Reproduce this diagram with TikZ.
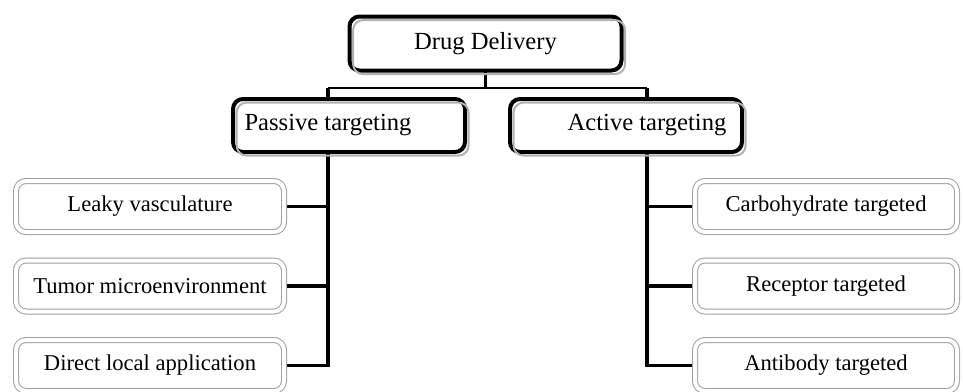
\documentclass[tikz,border=0pt]{standalone}
\usepackage{fontspec}
\setmainfont{Liberation Serif}
\usetikzlibrary{positioning,backgrounds}

\tikzset{
  mainbox/.style={draw, line width=2pt, rounded corners=5pt, outer sep=0pt,
    minimum height=26.5pt, font=\fontsize{12.3}{14.8}\selectfont,
    preaction={fill=white},
    postaction={draw=gray!60, line width=1pt, transform canvas={shift={(1.8pt,-1.8pt)}}}},
  leafbox/.style={draw=gray!75, line width=0.5pt, double=white, double distance=2pt,
    rounded corners=5pt, fill=white, outer sep=0pt, minimum height=25.5pt,
    font=\fontsize{11.3}{13.6}\selectfont},
  link/.style={line width=1.8pt}
}

\begin{document}
\begin{tikzpicture}[node distance=14.25pt]
    \useasboundingbox (0,0) rectangle (481.5pt,-195.5pt);

    % Root
    \node[mainbox, minimum width=136pt, minimum height=27pt] (root) at (242.75pt,-21.75pt) {Drug Delivery};

    % Second level
    \node[mainbox, minimum width=116pt] (passive) at (174.5pt,-62.75pt) {\hspace*{-21pt}Passive targeting};
    \node[mainbox, minimum width=116pt] (active) at (313pt,-62.75pt) {Active targeting\hspace*{-21pt}};

    % Passive leaves
    \node[leafbox, minimum width=134pt] (leaky) at (75pt,-103.25pt) {Leaky vasculature};
    \node[leafbox, minimum width=134pt, below=of leaky] (tumor) {Tumor microenvironment};
    \node[leafbox, minimum width=134pt, below=of tumor] (direct) {Direct local application};

    % Active leaves
    \node[leafbox, minimum width=131pt] (carbo) at (413pt,-103.25pt) {Carbohydrate targeted};
    \node[leafbox, minimum width=131pt, below=of carbo] (receptor) {Receptor targeted};
    \node[leafbox, minimum width=131pt, below=of receptor] (antibody) {Antibody targeted};

    % Connectors
    \coordinate (pjoin) at (164pt,-44pt);
    \coordinate (ajoin) at (323.5pt,-44pt);
    \begin{scope}[on background layer]
        \draw[link, line width=1.2pt] (root.south) -- (root.south |- pjoin);
        \draw[link, line width=1.4pt] (pjoin) -- (ajoin);
        \draw[link] (pjoin) |- (direct.east);
        \draw[link] (pjoin |- leaky.east) -- (leaky.east);
        \draw[link] (pjoin |- tumor.east) -- (tumor.east);
        \draw[link] (ajoin) |- (antibody.west);
        \draw[link] (ajoin |- carbo.west) -- (carbo.west);
        \draw[link] (ajoin |- receptor.west) -- (receptor.west);
    \end{scope}
\end{tikzpicture}
\end{document}
